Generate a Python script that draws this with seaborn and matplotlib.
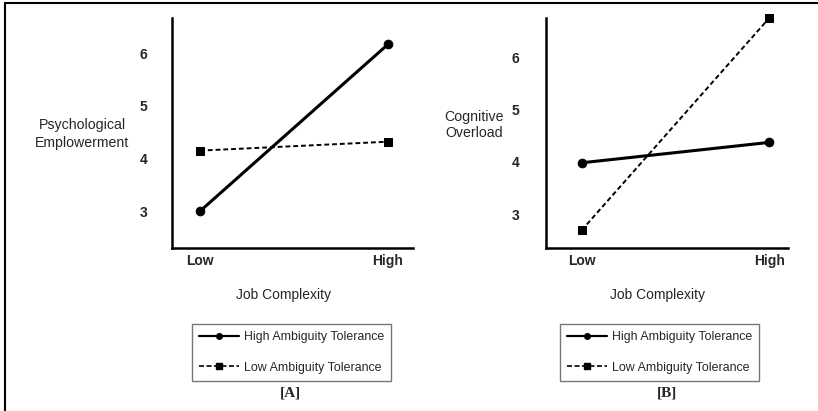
import pandas as pd
import seaborn as sns
import matplotlib.pyplot as plt
from matplotlib.lines import Line2D

# data
levels = ["Low", "High"]
groups = ["High Ambiguity Tolerance", "Low Ambiguity Tolerance"]
empowerment_high_tol = [3.00, 6.17]
empowerment_low_tol = [4.15, 4.32]
overload_high_tol = [3.98, 4.37]
overload_low_tol = [2.69, 6.75]
y_ticks = [3, 4, 5, 6]


def make_frame(high_vals, low_vals):
    rows = []
    for i, lvl in enumerate(levels):
        rows.append({"x": i, "level": lvl, "value": high_vals[i], "group": groups[0]})
        rows.append({"x": i, "level": lvl, "value": low_vals[i], "group": groups[1]})
    return pd.DataFrame(rows)


df_a = make_frame(empowerment_high_tol, empowerment_low_tol)
df_b = make_frame(overload_high_tol, overload_low_tol)

sns.set_theme(style="white")
plt.rcParams["font.family"] = ["Liberation Sans", "DejaVu Sans"]

fig = plt.figure(figsize=(8.18, 4.11), dpi=100)
W, H = 818, 411


def px_axes(left, top, right, bottom):
    return fig.add_axes([left / W, 1 - bottom / H, (right - left) / W, (bottom - top) / H])


ax_a = px_axes(172, 18, 413, 248)
ax_b = px_axes(546, 18, 788, 248)

panels = [
    (ax_a, df_a, (-0.149, 1.133), (2.30, 6.67), 25),
    (ax_b, df_b, (-0.19, 1.10), (2.35, 6.75), 27),
]

for ax, df, xlim, ylim, ypad in panels:
    sns.lineplot(data=df, x="x", y="value", hue="group", style="group",
                 palette=["black", "black"], dashes=[(None, None), (2.5, 1.5)],
                 markers=["o", "s"], markersize=6, markeredgecolor="black",
                 ax=ax, legend=False)
    for ln, lw, ms in zip(ax.get_lines(), [2.2, 1.4], [6.2, 5.4]):
        ln.set_linewidth(lw)
        ln.set_markersize(ms)
        ln.set_clip_on(False)
    ax.set_xlim(*xlim)
    ax.set_ylim(*ylim)
    ax.set_xticks([0, 1])
    ax.set_xticklabels(levels, fontweight="bold", fontsize=10)
    ax.set_yticks(y_ticks)
    ax.set_yticklabels([str(t) for t in y_ticks], fontweight="bold", fontsize=10)
    ax.tick_params(axis="y", length=0, pad=ypad * 0.72)
    ax.tick_params(axis="x", length=0, pad=4)
    ax.set_xlabel("")
    ax.set_ylabel("")
    sns.despine(ax=ax)
    for s in ["left", "bottom"]:
        ax.spines[s].set_linewidth(1.8)
        ax.spines[s].set_color("black")
    ax.set_facecolor("white")

# axis titles
fig.text(82 / W, 1 - 134 / H, "Psychological\nEmplowerment", ha="center", va="center",
         fontsize=10.2, linespacing=1.3, multialignment="center")
fig.text(474 / W, 1 - 125 / H, "Cognitive\nOverload", ha="center", va="center",
         fontsize=10.2, linespacing=1.15, multialignment="center")
fig.text(283 / W, 1 - 295 / H, "Job Complexity", ha="center", va="center", fontsize=10)
fig.text(658 / W, 1 - 295 / H, "Job Complexity", ha="center", va="center", fontsize=10)

# legends below each panel
handles = [
    Line2D([], [], color="black", lw=1.6, marker="o", markersize=4),
    Line2D([], [], color="black", lw=1.2, ls=(0, (3, 1.5)), marker="s", markersize=4),
]
for cx in [291.5, 659.5]:
    leg = fig.legend(handles, groups, loc="center", bbox_to_anchor=(cx / W, 1 - 352.5 / H),
                     fontsize=8.9, frameon=True, fancybox=False, handlelength=3.3,
                     handletextpad=0.4, borderpad=0.55, labelspacing=1.5,
                     borderaxespad=0)
    leg.get_frame().set_edgecolor("#555555")
    leg.get_frame().set_linewidth(1.0)

fig.text(290 / W, 1 - 393 / H, "[A]", ha="center", va="center", fontsize=11,
         fontweight="bold", family=["Liberation Serif", "DejaVu Serif"])
fig.text(667 / W, 1 - 393 / H, "[B]", ha="center", va="center", fontsize=11,
         fontweight="bold", family=["Liberation Serif", "DejaVu Serif"])

# outer frame: top and left edges only
fig.add_artist(Line2D([5 / W, 1], [1 - 3 / H, 1 - 3 / H], color="black", lw=1.5))
fig.add_artist(Line2D([5 / W, 5 / W], [0, 1 - 3 / H], color="black", lw=1.5))

fig.savefig("out.png", dpi=100, facecolor="white")
